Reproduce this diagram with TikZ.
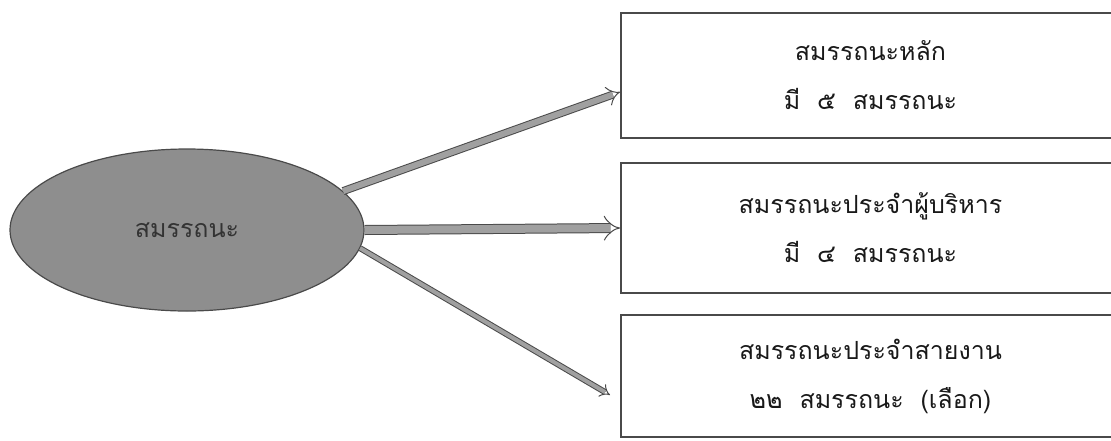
\documentclass[tikz,border=0pt]{standalone}
\usepackage{fontspec}
\newfontfamily\thaifont[Script=Thai]{Loma}
\usetikzlibrary{shapes.geometric,arrows.meta,calc}
\definecolor{ellfill}{HTML}{8E8E8E}
\definecolor{edge}{HTML}{4A4A4A}
\definecolor{shaft}{HTML}{A0A0A0}
\tikzset{
  x=1pt,y=-1pt,
  every node/.style={font=\thaifont\fontsize{25}{49}\selectfont},
  ellnode/.style={ellipse,draw=edge,line width=1.2pt,fill=ellfill,minimum width=354,minimum height=162,inner sep=0pt,text=black!80},
  boxnode/.style={rectangle,draw=edge,line width=1.8pt,minimum width=499,align=center,inner sep=0pt,text=black!90},
  arrowline/.style={draw=edge,line width=1pt,double=shaft,-{Implies}},
}
\begin{document}
\begin{tikzpicture}
\useasboundingbox (0,0) rectangle (1111,440);
\clip (0,0) rectangle (1111,440);
\node[ellnode] (ell) at (187,230) {สมรรถนะ};
\node[boxnode,minimum height=125] (b1) at (870.5,75.5) {สมรรถนะหลัก\\มี~~๕~~สมรรถนะ};
\node[boxnode,minimum height=130] (b2) at (870.5,228) {สมรรถนะประจำผู้บริหาร\\มี~~๔~~สมรรถนะ};
\node[boxnode,minimum height=122] (b3) at (870.5,376) {สมรรถนะประจำสายงาน\\๒๒~~สมรรถนะ~~(เลือก)};
\coordinate (t1) at ($(b1.north west)!0.63!(b1.south west)$);
\coordinate (t3) at (610,395);
\draw[arrowline,double distance=6pt] (ell.14) -- (t1);
\draw[arrowline,double distance=8pt] (ell.east) -- (b2.west);
\draw[arrowline,double distance=4pt] (ell.-6) -- (t3);
\end{tikzpicture}
\end{document}
